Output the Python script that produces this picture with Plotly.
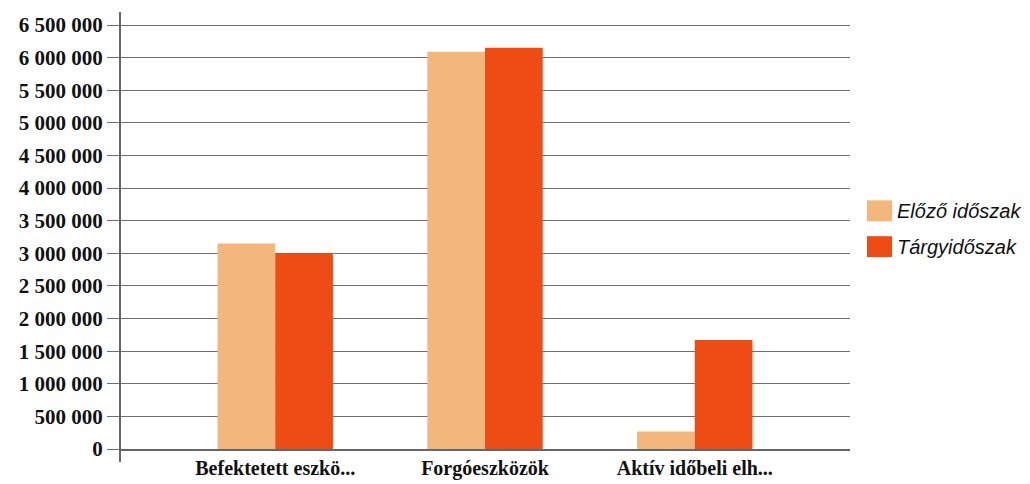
"""
Eszközök összehasonlítása: előző időszak vs. tárgyidőszak
"""

import plotly.graph_objects as go

# Data
categories = ['Befektetett eszkö...', 'Forgóeszközök', 'Aktív időbeli elh...']
elozo_idoszak = [3150000, 6090000, 270000]
targyidoszak = [3000000, 6150000, 1670000]
series_names = ['Előző időszak', 'Tárgyidőszak']

colors = {
    'elozo': '#F3B67D',
    'targy': '#EF4B14',
    'grid': '#6e6e6e',
}

fig = go.Figure()

fig.add_trace(go.Bar(
    name=series_names[0],
    x=categories,
    y=elozo_idoszak,
    marker=dict(color=colors['elozo'], line=dict(width=0)),
))

fig.add_trace(go.Bar(
    name=series_names[1],
    x=categories,
    y=targyidoszak,
    marker=dict(color=colors['targy'], line=dict(width=0)),
))

# note: the page body has an 8px margin, margins below account for it
fig.update_layout(
    width=1030,
    height=484,
    barmode='group',
    bargap=0.45,
    bargroupgap=0,
    showlegend=False,
    separators=', ',
    plot_bgcolor='white',
    paper_bgcolor='white',
    margin=dict(l=112, r=188, t=4, b=43),
    xaxis=dict(
        type='category',
        range=[-0.74, 2.74],
        showgrid=False,
        showline=True,
        linecolor='#666666',
        linewidth=2,
        ticks='',
        tickfont=dict(family='Liberation Serif', size=20, color='#111111', weight='bold'),
    ),
    yaxis=dict(
        range=[0, 6700000],
        tickvals=list(range(0, 6500001, 500000)),
        tickformat=',d',
        showgrid=True,
        gridcolor=colors['grid'],
        gridwidth=1,
        ticks='outside',
        ticklen=12,
        tickcolor=colors['grid'],
        showline=False,
        zeroline=False,
        tickfont=dict(family='Liberation Serif', size=21, color='#111111', weight='bold'),
    ),
)

# y axis line, running a little below the zero line as in the original
fig.add_shape(type='line', xref='paper', yref='paper',
              x0=0, x1=0, y0=-0.03, y1=1,
              line=dict(color='#666666', width=2))

# legend drawn by hand so the swatches are as big as in the original
legend_items = [(series_names[0], colors['elozo'], 0.545),
                (series_names[1], colors['targy'], 0.463)]
for name, color, ypos in legend_items:
    fig.add_shape(type='rect', xref='paper', yref='paper',
                  x0=1.0233, x1=1.0575, y0=ypos - 0.024, y1=ypos + 0.024,
                  fillcolor=color, line=dict(width=0))
    fig.add_annotation(text=f'<i>{name}</i>', xref='paper', yref='paper',
                       x=1.062, y=ypos, xanchor='left', yanchor='middle',
                       showarrow=False,
                       font=dict(family='Liberation Sans', size=20, color='#111111'))

fig.write_html("out.html")
